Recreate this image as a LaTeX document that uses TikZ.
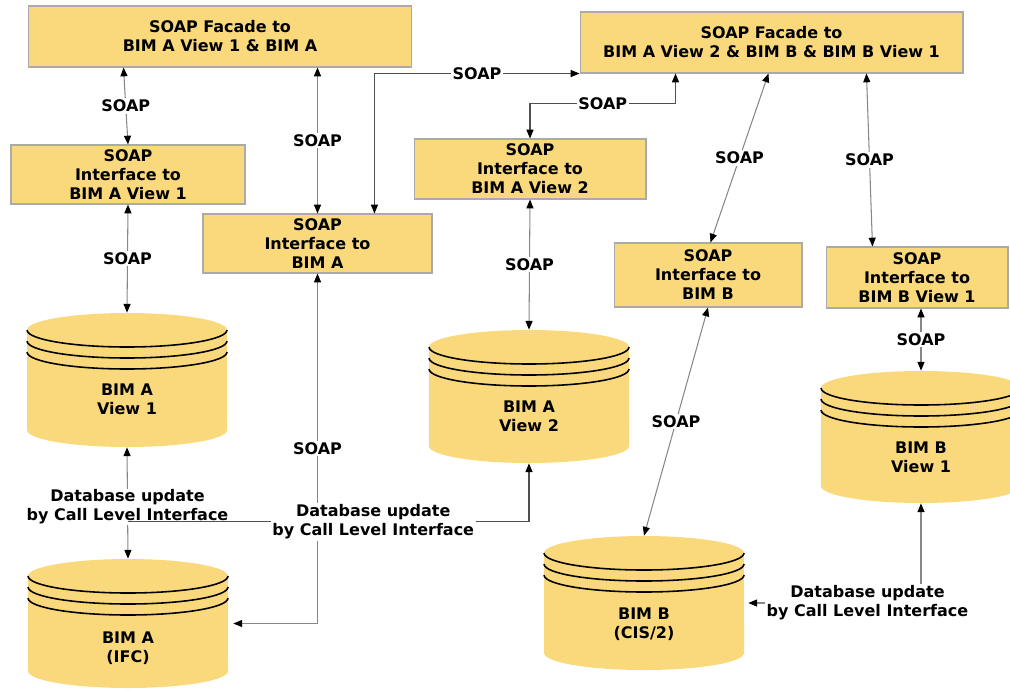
\documentclass[tikz,border=0pt]{standalone}
\usepackage{fontspec}
\newfontfamily\labfont{DejaVu Sans}
\usetikzlibrary{arrows.meta,calc}
\definecolor{boxfill}{RGB}{250,217,125}
\definecolor{boxline}{RGB}{170,170,170}
\definecolor{conn}{RGB}{135,135,135}
\definecolor{conndark}{RGB}{80,80,80}
\newcommand\mydb[6]{%
  \node[dbnode, minimum height={(#4-#3)*0.02cm}] (#1) at (#2,{(#3+#4)/2}) {};
  \fill[boxfill] (#2-100,#3+17) arc[start angle=180,end angle=0,x radius=2cm,y radius=0.34cm]
     -- (#2+100,#4-17) arc[start angle=0,end angle=-180,x radius=2cm,y radius=0.34cm] -- cycle;
  \foreach \k in {0,11,22}
    \draw[line width=0.9pt] (#2+100,#3+17+\k) arc[start angle=0,end angle=-180,x radius=2cm,y radius=0.34cm];
  \node[txt] (#1t) at (#2,#5) {#6};
}
\begin{document}
\begin{tikzpicture}[x=0.02cm,y=-0.02cm,
  txt/.style={font=\labfont\bfseries\fontsize{9.1}{10.8}\selectfont, align=center, inner sep=0pt},
  box/.style={txt, draw=boxline, line width=0.6pt, fill=boxfill},
  dbnode/.style={inner sep=0pt, minimum width=4cm},
  lbl/.style={txt, fill=white, inner sep=1pt},
  link/.style={draw=conn, line width=0.6pt, {Triangle[length=5pt,width=4pt,color=black]}-{Triangle[length=5pt,width=4pt,color=black]}},
  tolink/.style={draw=conndark, line width=0.6pt, -{Triangle[length=5pt,width=4pt,color=black]}}
]
\useasboundingbox (0,0) rectangle (1010,691);

% boxes
\node[box, minimum width=7.68cm, minimum height=1.22cm] (F1) at (220,36.5) {SOAP Facade to\\BIM A View 1 \& BIM A};
\node[box, minimum width=7.66cm, minimum height=1.22cm] (F2) at (771.5,42.5) {SOAP Facade to\\BIM A View 2 \& BIM B \& BIM B View 1};
\node[box, minimum width=4.68cm, minimum height=1.18cm] (I1) at (128,174.5) {SOAP\\Interface to\\BIM A View 1};
\node[box, minimum width=4.58cm, minimum height=1.18cm] (I2) at (317.5,243.5) {SOAP\\Interface to\\BIM A};
\node[box, minimum width=4.64cm, minimum height=1.20cm] (I3) at (530,169) {SOAP\\Interface to\\BIM A View 2};
\node[box, minimum width=3.76cm, minimum height=1.28cm] (I4) at (708,275) {SOAP\\Interface to\\BIM B};
\node[box, minimum width=3.64cm, minimum height=1.22cm] (I5) at (917,277.5) {SOAP\\Interface to\\BIM B View 1};

% databases
\mydb{C1}{127}{313}{447}{399}{BIM A\\View 1}
\mydb{C2}{128}{559}{688}{648}{BIM A\\(IFC)}
\mydb{C3}{529}{330}{463}{416}{BIM A\\View 2}
\mydb{C4}{644}{536}{670}{624}{BIM B\\(CIS/2)}
\mydb{C5}{921}{371}{503}{457}{BIM B\\View 1}

% SOAP connectors
\draw[link] ([xshift=1.92cm]F1.south west) -- node[lbl]{SOAP} (I1.north);
\draw[link] (I1.south) -- node[lbl]{SOAP} (C1.north);
\draw[link] (I2.north |- F1.south) -- node[lbl]{SOAP} (I2.north);
\draw[link, draw=conndark] ([xshift=3.44cm]I2.north west) |- node[lbl, pos=0.75]{SOAP} (F2.south west);
\draw[link, draw=conndark] ([xshift=1.92cm]F2.south west) -- ++(0,30) -| node[lbl, pos=0.25]{SOAP} (I3.north);
\draw[link] (I3.south) -- node[lbl]{SOAP} (C3.north);
\draw[link] ([xshift=3.78cm]F2.south west) -- node[lbl]{SOAP} ([xshift=1.94cm]I4.north west);
\draw[link] ([xshift=5.74cm]F2.south west) -- node[lbl]{SOAP} ([xshift=0.94cm]I5.north west);
\draw[link] (C5.north |- I5.south) -- node[lbl]{SOAP} (C5.north);
\draw[link] (I4.south) -- node[lbl]{SOAP} (C4.north);
\draw[link] (I2.south) |- node[lbl, pos=0.25]{SOAP} ([xshift=0.1cm]C2.east);

% database updates
\draw[link] (C1.south) -- node[lbl, inner sep=0.5pt, pos=0.536]{Database update\\by Call Level Interface} coordinate[pos=0.67] (j1) (C2.north);
\draw[tolink] (j1) -| node[lbl, pos=0.306]{Database update\\by Call Level Interface} (C3.south);
\draw[link] (C5.south) |- node[lbl, pos=0.655]{Database update\\by Call Level Interface} ([xshift=0.08cm]C4.east);
\end{tikzpicture}
\end{document}
